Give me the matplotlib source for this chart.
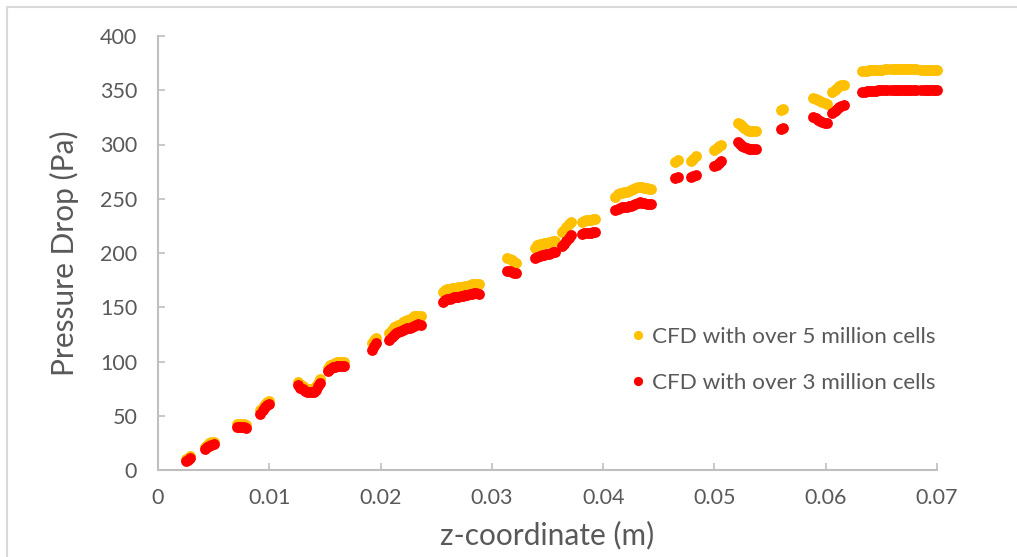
import matplotlib
matplotlib.use("Agg")
import matplotlib.pyplot as plt
from matplotlib.patches import Rectangle

# ── data ──────────────────────────────────────────────────
z_seg = [
    [0.0025, 0.0027, 0.0029],
    [0.0042, 0.0044, 0.0046, 0.0048, 0.0050],
    [0.0071, 0.0073, 0.0075, 0.0077, 0.0079],
    [0.0092, 0.0094, 0.0096, 0.0098, 0.0100],
    [0.0126, 0.0128, 0.0130, 0.0132, 0.0134, 0.0136, 0.0138, 0.0140, 0.0142, 0.0144, 0.0146],
    [0.0153, 0.0155, 0.0157, 0.0159, 0.0161, 0.0163, 0.0165, 0.0167],
    [0.0192, 0.0194, 0.0196],
    [0.0208, 0.0210, 0.0212, 0.0214, 0.0216, 0.0218, 0.0220, 0.0222, 0.0224, 0.0226,
     0.0228, 0.0230, 0.0232, 0.0234, 0.0236],
    [0.0256, 0.0258, 0.0260, 0.0262, 0.0264, 0.0266, 0.0268, 0.0270, 0.0272, 0.0274,
     0.0276, 0.0278, 0.0280, 0.0282, 0.0284, 0.0286, 0.0288],
    [0.0314, 0.0316, 0.0318, 0.0320, 0.0322],
    [0.0339, 0.0341, 0.0343, 0.0345, 0.0347, 0.0349, 0.0351, 0.0353, 0.0355, 0.0357],
    [0.0363, 0.0365, 0.0367, 0.0369, 0.0371],
    [0.0381, 0.0383, 0.0385, 0.0387, 0.0389, 0.0391, 0.0393],
    [0.0411, 0.0413, 0.0415, 0.0417, 0.0419, 0.0421, 0.0423, 0.0425, 0.0427, 0.0429,
     0.0431, 0.0433, 0.0435, 0.0437, 0.0439, 0.0441, 0.0443],
    [0.0465, 0.0467],
    [0.0479, 0.0481, 0.0483],
    [0.0500, 0.0502, 0.0504, 0.0506],
    [0.0521, 0.0523, 0.0525, 0.0527, 0.0529, 0.0531, 0.0533, 0.0535, 0.0537],
    [0.0560, 0.0562],
    [0.0589, 0.0591, 0.0593, 0.0595, 0.0597, 0.0599, 0.0601],
    [0.0606, 0.0608, 0.0610, 0.0612, 0.0614, 0.0616],
    [0.0633, 0.0635, 0.0637, 0.0639, 0.0641, 0.0643, 0.0645, 0.0647, 0.0649, 0.0651,
     0.0653, 0.0655, 0.0659, 0.0661, 0.0663, 0.0665, 0.0667, 0.0669, 0.0671, 0.0673,
     0.0675, 0.0677, 0.0679, 0.0681, 0.0686, 0.0688, 0.0690, 0.0692, 0.0694, 0.0696,
     0.0698, 0.0700],
]

p5_seg = [
    [10, 11, 13],
    [21, 23, 24.5, 25.5, 26],
    [42, 42.5, 42.5, 42, 41.5],
    [55, 58, 61, 63, 64],
    [81, 79, 77.5, 76, 75, 74.5, 74.5, 75, 77, 80, 84],
    [94, 96.5, 98, 99, 99.5, 100, 100, 100],
    [117, 120, 122],
    [126, 129, 131.5, 133, 134, 135, 136, 137, 138, 139, 140.5, 141.5, 142, 142, 141.5],
    [164, 165.5, 166.5, 167, 167.5, 167.5, 168, 168.5, 169, 169, 169.5, 170, 170.5,
     171, 171.5, 171.5, 171.5],
    [195, 194.5, 193.5, 192, 190.5],
    [205, 207, 208, 208.5, 209, 209.5, 210, 210.5, 211, 211.5],
    [219, 221.5, 224, 226.5, 229],
    [229, 229.5, 230, 230, 230.5, 231, 231],
    [252, 254, 255, 255.5, 256, 256.5, 257, 258, 259, 260, 261, 261, 260.5, 260,
     259.5, 259, 259],
    [284, 286],
    [285, 287, 289],
    [295, 297, 298.5, 300],
    [320, 318.5, 317, 315, 313.5, 312.5, 312, 312, 312],
    [332, 333],
    [343, 342, 341, 340, 339, 338, 337.5],
    [348, 350, 352, 353.5, 354.5, 355],
    [367.5, 368, 368, 368.5, 368.5, 369, 369, 369, 369, 369, 369.5, 369.5, 369.5, 369.5,
     369.5, 369.5, 369.5, 369.5, 369.5, 369.5, 369.5, 369.5, 369.5, 369.5, 369, 369,
     369, 369, 369, 369, 369, 369],
]

p3_seg = [
    [8, 9, 11],
    [19, 21, 22.5, 23.5, 24],
    [39.5, 40, 40, 39.5, 39],
    [52, 55, 58, 60, 61],
    [78, 76, 74.5, 73, 72, 71.5, 71.5, 72, 74, 77, 80],
    [91, 93, 94.5, 95, 95.5, 96, 96, 96],
    [111, 114, 117],
    [120, 122.5, 124.5, 126, 127, 128, 129, 130, 130.5, 131, 132, 133, 134, 134.5, 134],
    [155, 156.5, 157.5, 158, 158.5, 159, 159, 159.5, 160, 160.5, 161, 161.5, 162,
     162.5, 163, 163, 162.5],
    [183.5, 183, 182.5, 182, 181.5],
    [195, 196.5, 197.5, 198, 198.5, 199, 199.5, 200, 200.5, 201],
    [206, 208.5, 211, 214, 217],
    [217.5, 218, 218, 218.5, 218.5, 219, 219],
    [239.5, 241, 241.5, 242, 242, 242.5, 243, 243.5, 244.5, 245.5, 246.5, 247, 246.5,
     246, 245.5, 245, 245],
    [269.5, 270.5],
    [270, 271, 272],
    [280, 281.5, 283, 284.5],
    [302, 300.5, 299, 297.5, 296.5, 296, 296, 296, 296],
    [314.5, 315.5],
    [325, 324, 323, 322, 321, 320, 319.5],
    [329, 331, 333, 334.5, 335.5, 336.5],
    [348, 348.5, 349, 349, 349.5, 349.5, 349.5, 350, 350, 350, 350, 350, 350, 350,
     350, 350, 350, 350, 350, 350, 350, 350, 350, 350, 350, 350, 350, 350, 350, 350,
     350, 350],
]

z = [v for seg in z_seg for v in seg]
p5 = [v for seg in p5_seg for v in seg]
p3 = [v for seg in p3_seg for v in seg]

x_ticks = [0, 0.01, 0.02, 0.03, 0.04, 0.05, 0.06, 0.07]
x_labels = ["0", "0.01", "0.02", "0.03", "0.04", "0.05", "0.06", "0.07"]
y_ticks = [0, 50, 100, 150, 200, 250, 300, 350, 400]

# ── figure ───────────────────────────────────────────────
plt.rcParams["font.family"] = ["Lato", "DejaVu Sans"]
W, H = 1017, 557
fig = plt.figure(figsize=(W / 100, H / 100), dpi=100)
fig.patch.set_facecolor("white")

# chart-area border (runs off the right and bottom of the picture)
fig.patches.append(Rectangle((7 / W, -0.1), 1.2, 1.1 - 7 / H,
                             transform=fig.transFigure, fill=False,
                             edgecolor="#D9D9D9", linewidth=1.5))

ax = fig.add_axes([158 / W, 1 - 470 / H, (937 - 158) / W, (470 - 36) / H])

ax.plot(z, p5, "o", color="#FFC000", markersize=7.8, markeredgewidth=0,
        label="CFD with over 5 million cells", clip_on=False)
ax.plot(z, p3, "o", color="#FF0000", markersize=7.8, markeredgewidth=0,
        label="CFD with over 3 million cells", clip_on=False)

ax.set_xlim(0, 0.07)
ax.set_ylim(0, 400)
ax.set_xticks(x_ticks)
ax.set_xticklabels(x_labels)
ax.set_yticks(y_ticks)

gray = "#BFBFBF"
txt = "#595959"
for side in ["top", "right"]:
    ax.spines[side].set_visible(False)
for side in ["left", "bottom"]:
    ax.spines[side].set_color(gray)
    ax.spines[side].set_linewidth(1.5)
ax.tick_params(direction="in", length=5, width=1.2, color=gray,
               labelcolor=txt, labelsize=15.5)
ax.tick_params(axis="x", pad=13)
ax.tick_params(axis="y", pad=15)

ax.set_xlabel("z-coordinate (m)", fontsize=21.5, color=txt, labelpad=9)
ax.set_ylabel("Pressure Drop (Pa)", fontsize=21.5, color=txt, labelpad=15)

leg = ax.legend(loc="center left", bbox_to_anchor=(0.581, 0.2535), frameon=False,
                fontsize=16.2, markerscale=0.85, handlelength=0.6,
                handletextpad=0.35, labelspacing=1.19)
for t in leg.get_texts():
    t.set_color(txt)

fig.savefig("out.png", dpi=100, facecolor="white")
